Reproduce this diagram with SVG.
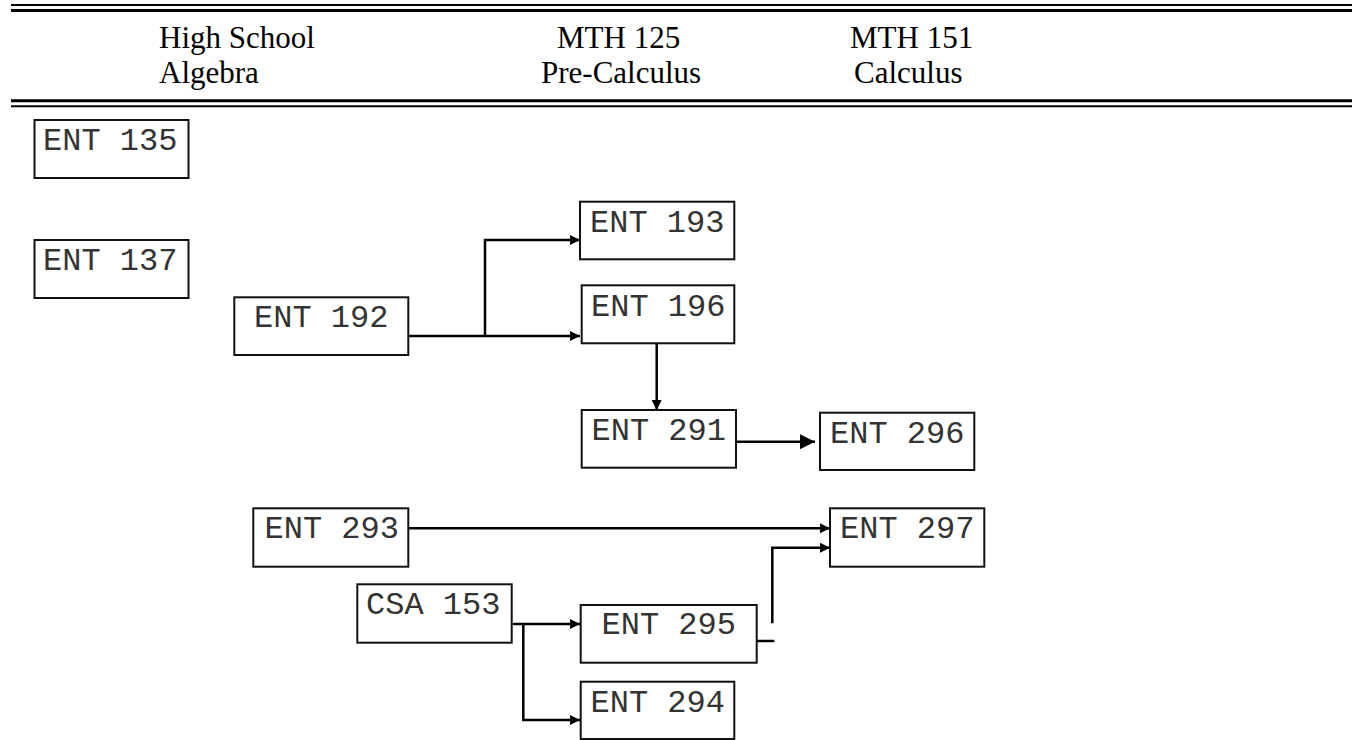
<svg xmlns="http://www.w3.org/2000/svg" width="1361" height="740" viewBox="0 0 1361 740">
<style>
.hdr{font-family:"Liberation Serif","Times New Roman",serif;font-size:31px;fill:#000}
.box rect{fill:#fff;stroke:#111;stroke-width:2}
.box text{font-family:"Liberation Mono","Courier New",monospace;font-size:32px;fill:#333}
.conn path{fill:none;stroke:#000;stroke-width:2.5}
.rule{stroke:#000}
</style>
<defs>
<marker id="ah" markerUnits="userSpaceOnUse" markerWidth="12" markerHeight="12" refX="10" refY="5" orient="auto">
<path d="M0,0 L10,5 L0,10 Z" fill="#000"/>
</marker>
<marker id="ahL" markerUnits="userSpaceOnUse" markerWidth="18" markerHeight="18" refX="15" refY="7.5" orient="auto">
<path d="M0,0 L15,7.5 L0,15 Z" fill="#000"/>
</marker>
</defs>
<rect width="1361" height="740" fill="#fff"/>
<g id="header">
<line class="rule" x1="11" y1="5" x2="1352" y2="5" stroke-width="2"/>
<line class="rule" x1="11" y1="10.5" x2="1352" y2="10.5" stroke-width="3"/>
<line class="rule" x1="11" y1="100.7" x2="1352" y2="100.7" stroke-width="3"/>
<line class="rule" x1="11" y1="106.3" x2="1352" y2="106.3" stroke-width="2"/>
<text class="hdr" x="159" y="48">High School</text>
<text class="hdr" x="159" y="83">Algebra</text>
<text class="hdr" x="557" y="48">MTH 125</text>
<text class="hdr" x="541" y="83">Pre-Calculus</text>
<text class="hdr" x="850" y="48">MTH 151</text>
<text class="hdr" x="854" y="83">Calculus</text>
</g>
<g id="connectors" class="conn">
<path d="M408,336 H580" marker-end="url(#ah)"/>
<path d="M485,336 V240 H580" marker-end="url(#ah)"/>
<path d="M656.7,343 V410" marker-end="url(#ah)"/>
<path d="M734,441.7 H815" marker-end="url(#ahL)"/>
<path d="M408,528.3 H830" marker-end="url(#ah)"/>
<path d="M756.7,641 H774.3"/>
<path d="M772.3,623.3 V547.7 H830" marker-end="url(#ah)"/>
<path d="M512.7,624 H580" marker-end="url(#ah)"/>
<path d="M523.3,624 V720 H580" marker-end="url(#ah)"/>
</g>
<g id="ent135" class="box"><rect x="34.5" y="120" width="154" height="58"/><text x="43" y="150">ENT 135</text></g>
<g id="ent137" class="box"><rect x="34.5" y="240" width="154" height="58"/><text x="43" y="270">ENT 137</text></g>
<g id="ent192" class="box"><rect x="234.3" y="297.3" width="174" height="57.7"/><text x="254" y="327">ENT 192</text></g>
<g id="ent193" class="box"><rect x="580" y="201.7" width="154.3" height="57.6"/><text x="590" y="232">ENT 193</text></g>
<g id="ent196" class="box"><rect x="581.7" y="285.3" width="152.6" height="58"/><text x="591" y="316">ENT 196</text></g>
<g id="ent291" class="box"><rect x="581.7" y="410" width="154.3" height="57.7"/><text x="591.5" y="439.5">ENT 291</text></g>
<g id="ent296" class="box"><rect x="820" y="412.7" width="154.3" height="57.3"/><text x="830" y="442.7">ENT 296</text></g>
<g id="ent293" class="box"><rect x="253.3" y="508.3" width="155" height="58.4"/><text x="264.5" y="538.3">ENT 293</text></g>
<g id="csa153" class="box"><rect x="357.3" y="584.3" width="154.4" height="58.4"/><text x="366" y="614.3">CSA 153</text></g>
<g id="ent295" class="box"><rect x="580.7" y="605" width="176" height="57.7"/><text x="601.5" y="634">ENT 295</text></g>
<g id="ent294" class="box"><rect x="580.7" y="681.7" width="153.6" height="57.3"/><text x="590.5" y="711.7">ENT 294</text></g>
<g id="ent297" class="box"><rect x="830" y="508.3" width="154.3" height="58.4"/><text x="840" y="538.3">ENT 297</text></g>
</svg>
